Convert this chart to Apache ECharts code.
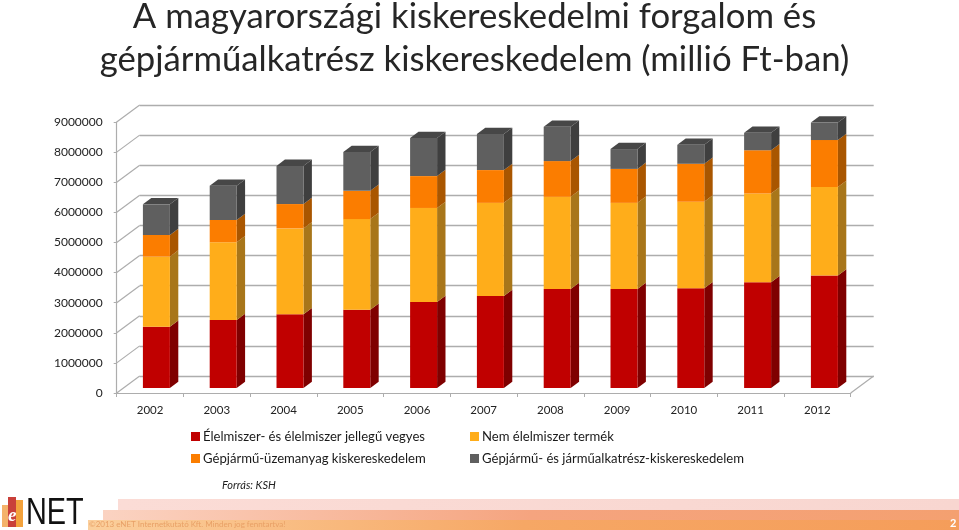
<!DOCTYPE html>
<html><head><meta charset="utf-8">
<style>html,body{margin:0;padding:0;background:#fff}#c{width:959px;height:530px}</style>
<script src="https://cdn.jsdelivr.net/npm/echarts@6/dist/echarts.min.js"></script>
</head><body><div id="c"></div>
<script>
const years = ['2002','2003','2004','2005','2006','2007','2008','2009','2010','2011','2012'];
const elelmiszer = [2040000,2260000,2450000,2600000,2860000,3060000,3290000,3290000,3320000,3520000,3740000];
const nemElelmiszer = [2330000,2590000,2860000,3020000,3130000,3100000,3070000,2870000,2880000,2950000,2950000];
const uzemanyag = [720000,740000,810000,940000,1060000,1090000,1190000,1130000,1260000,1440000,1560000];
const gepjarmu = [1020000,1140000,1270000,1290000,1270000,1200000,1140000,660000,630000,580000,580000];
const yTicks = [0,1000000,2000000,3000000,4000000,5000000,6000000,7000000,8000000,9000000];
const names = ['Élelmiszer- és élelmiszer jellegű vegyes','Nem élelmiszer termék','Gépjármű-üzemanyag kiskereskedelem','Gépjármű- és járműalkatrész-kiskereskedelem'];
const stackValues = [elelmiszer,nemElelmiszer,uzemanyag,gepjarmu];
const fronts = ['#c00000','#ffad1a','#fb7d00','#5f5f5f'];
const sides = ['#7f0000','#a8761a','#a95600','#3f3f3f'];
const topFace = '#474747';
const gridColor = '#adadad';
const FONT = 'Lato, "Open Sans", sans-serif';
const DX = 23, DY = -17, BDX = 8.4, BDY = -6.3;

const chart = echarts.init(document.getElementById('c'));
function stackData(i){
  return years.map((y,k)=>{
    let low = 0;
    for(let j=0;j<i;j++) low += stackValues[j][k];
    return [k, low, low + stackValues[i][k]];
  });
}
const barSeries = names.map((name,i)=>({
  name, type:'custom', xAxisIndex:2, yAxisIndex:2, z:5, clip:false,
  itemStyle:{color:fronts[i]},
  data: stackData(i),
  renderItem(params, api){
    const a = api.coord([api.value(0), api.value(1)]);
    const b = api.coord([api.value(0), api.value(2)]);
    const w = api.size([1,0])[0]*0.404;
    const l = a[0]-w/2, r = a[0]+w/2;
    const ch = [
      {type:'polygon',shape:{points:[[r,a[1]],[r,b[1]],[r+BDX,b[1]+BDY],[r+BDX,a[1]+BDY]]},style:{fill:sides[i]}},
      {type:'rect',shape:{x:l,y:b[1],width:w,height:a[1]-b[1]},style:{fill:fronts[i]}}
    ];
    if(i===3) ch.push({type:'polygon',shape:{points:[[l,b[1]],[r,b[1]],[r+BDX,b[1]+BDY],[l+BDX,b[1]+BDY]]},style:{fill:topFace}});
    return {type:'group',children:ch};
  }
}));
const wallSeries = {
  type:'custom', xAxisIndex:0, yAxisIndex:0, z:1, silent:true, clip:false,
  data: yTicks.map(v=>[0,v]),
  renderItem(params, api){
    const cs = params.coordSys;
    const y = api.coord([0, api.value(1)])[1];
    const ln = (x)=>({type:'line',shape:{x1:x,y1:y,x2:x+DX,y2:y+DY},style:{stroke:gridColor,lineWidth:1.2}});
    const ch = [ln(cs.x)];
    if(api.value(1)===0) ch.push(ln(cs.x+cs.width));
    return {type:'group',children:ch};
  }
};
const legendPos = [[191,430],[470,430],[191,452],[470,452]];
const titleStyle = {fontFamily:FONT,fontWeight:400,fontSize:34.7,color:'#262626'};
chart.setOption({
  animation:false,
  backgroundColor:'#fff',
  textStyle:{fontFamily:FONT},
  title:[
    {text:'A magyarországi kiskereskedelmi forgalom és',left:469.5,top:-6,textAlign:'center',textStyle:titleStyle},
    {text:'gépjárműalkatrész kiskereskedelem (millió Ft-ban)',left:469.5,top:37,textAlign:'center',textStyle:titleStyle},
    {text:'Forrás: KSH',left:217,top:475,textStyle:{fontFamily:FONT,fontWeight:400,fontStyle:'italic',fontSize:11,color:'#222'}}
  ],
  legend: names.map((n,i)=>({
    data:[n],left:legendPos[i][0],top:legendPos[i][1],icon:'rect',itemWidth:9,itemHeight:9,itemGap:3,padding:0,
    selectedMode:false,
    textStyle:{fontFamily:FONT,fontSize:13.1,color:'#1a1a1a',padding:[0,0,0,-2]}
  })),
  grid:[
    {left:116.7,top:122,width:734,height:271},
    {left:139.7,top:105,width:734,height:271},
    {left:123,top:117.5,width:734.8,height:270.5}
  ],
  xAxis:[
    {gridIndex:0,type:'category',data:years,
      axisLine:{lineStyle:{color:gridColor,width:1.2}},axisTick:{show:true,length:4,lineStyle:{color:gridColor}},
      axisLabel:{fontFamily:FONT,fontSize:11.5,color:'#222',margin:11},splitLine:{show:false}},
    {gridIndex:1,type:'category',data:years,show:false},
    {gridIndex:2,type:'category',data:years,show:false}
  ],
  yAxis:[
    {gridIndex:0,type:'value',min:0,max:9000000,interval:1000000,
      axisLine:{show:true,lineStyle:{color:gridColor,width:1.2}},axisTick:{show:true,length:3,lineStyle:{color:gridColor}},
      axisLabel:{fontFamily:FONT,fontSize:12,color:'#222',margin:14,padding:[4,0,0,0],formatter:v=>String(v)},splitLine:{show:false}},
    {gridIndex:1,type:'value',min:0,max:9000000,interval:1000000,
      axisLine:{show:false},axisTick:{show:false},axisLabel:{show:false},
      splitLine:{show:true,lineStyle:{color:gridColor,width:1.4}}},
    {gridIndex:2,type:'value',min:0,max:9000000,interval:1000000,show:false}
  ],
  graphic:[
    {type:'rect',shape:{x:118,y:499,width:841,height:11},silent:true,style:{fill:new echarts.graphic.LinearGradient(0,0,1,0,[{offset:0,color:'#fbdcd6'},{offset:1,color:'#f8d6d0'}])}},
    {type:'rect',shape:{x:103,y:510,width:856,height:10},silent:true,style:{fill:new echarts.graphic.LinearGradient(0,0,1,0,[{offset:0,color:'#fbd3c2'},{offset:0.5,color:'#f5a47f'},{offset:1,color:'#f4a070'}])}},
    {type:'rect',shape:{x:88,y:520,width:871,height:10},silent:true,style:{fill:new echarts.graphic.LinearGradient(0,0,1,0,[{offset:0,color:'#fbcf9c'},{offset:0.5,color:'#f6a765'},{offset:1,color:'#f59d5a'}])}},
    {type:'text',x:89,y:520.5,silent:true,style:{text:'©2013 eNET Internetkutató Kft. Minden jog fenntartva!',font:'8px Lato, sans-serif',fill:'#e8a066'}},
    {type:'text',x:950,y:518,silent:true,style:{text:'2',font:'bold 11px Lato, sans-serif',fill:'#fff'}},
    {type:'rect',shape:{x:2,y:505,width:6,height:22},silent:true,style:{fill:'#f4b26a'}},
    {type:'rect',shape:{x:8,y:497,width:8,height:30},silent:true,style:{fill:'#c9403a'}},
    {type:'rect',shape:{x:16,y:500,width:7,height:27},silent:true,style:{fill:'#f3a23c'}},
    {type:'text',x:8,y:507,silent:true,style:{text:'e',font:'italic bold 19px "Liberation Serif", serif',fill:'#fff'}},
    {type:'text',x:26,y:495,scaleX:0.78,silent:true,style:{text:'NET',font:'37px "Liberation Sans", sans-serif',fill:'#111'}}
  ],
  series:[wallSeries].concat(barSeries)
});
</script></body></html>
